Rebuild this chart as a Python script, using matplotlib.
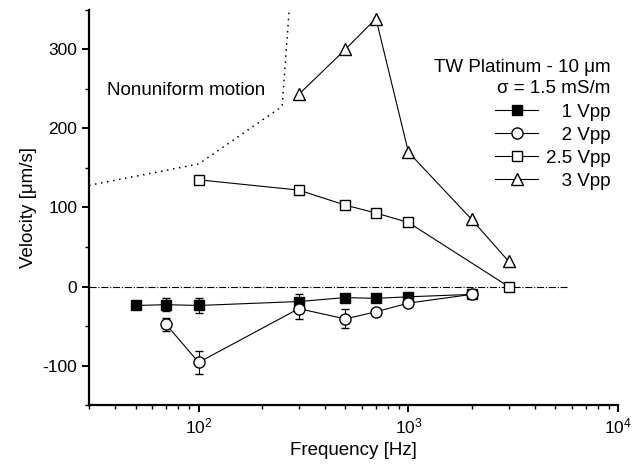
import matplotlib.pyplot as plt
from matplotlib.ticker import MultipleLocator, LogLocator

plt.rcParams['font.family'] = ['Liberation Sans', 'DejaVu Sans']
plt.rcParams['mathtext.default'] = 'regular'
plt.rcParams['axes.unicode_minus'] = False

# data
f_1v = [50, 70, 100, 300, 500, 700, 1000, 2000]
v_1v = [-24, -23, -24, -19, -14, -15, -13, -10]
e_1v = [4, 8, 9, 9, 4, 4, 4, 3]

f_2v = [70, 100, 300, 500, 700, 1000, 2000]
v_2v = [-48, -96, -28, -41, -32, -21, -10]
e_2v = [8, 15, 13, 12, 4, 4, 4]

f_25v = [100, 300, 500, 700, 1000, 3000]
v_25v = [135, 122, 103, 93, 81, 0]

f_3v = [300, 500, 700, 1000, 2000, 3000]
v_3v = [243, 300, 339, 170, 85, 32]

f_limit = [30, 100, 250, 270]
v_limit = [128, 155, 228, 350]

f_zero = [30, 5700]
v_zero = [0, 0]

# padded with figure/punctuation spaces so the labels line up on the right
labels = ['\u2007\u2008' + '1 Vpp', '\u2007\u2008' + '2 Vpp', '2.5 Vpp', '\u2007\u2008' + '3 Vpp']

fig = plt.figure(figsize=(6.33, 4.71), dpi=100)
ax = fig.add_axes([0.1406, 0.140, 0.836, 0.839])

ax.plot(f_limit, v_limit, ls=(0, (1, 3)), color='black', lw=1.1)
ax.plot(f_zero, v_zero, ls='-.', color='black', lw=0.8)

c1 = ax.errorbar(f_1v, v_1v, yerr=e_1v, fmt='-s', color='black', mfc='black', ms=7,
                 lw=0.8, mew=1.0, capsize=3, elinewidth=0.8)
c2 = ax.errorbar(f_2v, v_2v, yerr=e_2v, fmt='-o', color='black', mfc='white', ms=8,
                 lw=0.8, mew=1.0, capsize=3, elinewidth=0.8)
l3, = ax.plot(f_25v, v_25v, '-s', color='black', mfc='white', ms=7, lw=0.8, mew=1.0)
l4, = ax.plot(f_3v, v_3v, '-^', color='black', mfc='white', ms=9, lw=0.8, mew=1.0)

ax.set_xscale('log')
ax.set_xlim(30, 1e4)
ax.set_ylim(-150, 350)
ax.yaxis.set_major_locator(MultipleLocator(100))
ax.yaxis.set_minor_locator(MultipleLocator(50))
ax.xaxis.set_minor_locator(LogLocator(subs=range(2, 10)))

ax.spines['top'].set_visible(False)
ax.spines['right'].set_visible(False)
ax.spines['left'].set_linewidth(1.6)
ax.spines['bottom'].set_linewidth(1.6)
ax.tick_params(which='major', direction='out', length=5, width=1.4, labelsize=12.5)
ax.tick_params(which='minor', direction='out', length=3, width=1.0)

ax.set_xlabel('Frequency [Hz]', fontsize=13.5)
ax.set_ylabel('Velocity [μm/s]', fontsize=13.5)

ax.text(36.6, 248, 'Nonuniform motion', fontsize=13.5, va='center')

leg = ax.legend(handles=[c1[0], c2[0], l3, l4], labels=labels,
                loc='upper right', bbox_to_anchor=(1.0, 0.895), frameon=False,
                fontsize=13.5, handlelength=2.3, handletextpad=0.4, labelspacing=0.32,
                borderaxespad=0.0,
                title='TW Platinum - 10 μm\nσ = 1.5 mS/m', title_fontsize=13.5,
                alignment='right')
leg.get_title().set_multialignment('right')
leg.get_title().set_linespacing(1.35)

fig.savefig('out.png', dpi=100)
